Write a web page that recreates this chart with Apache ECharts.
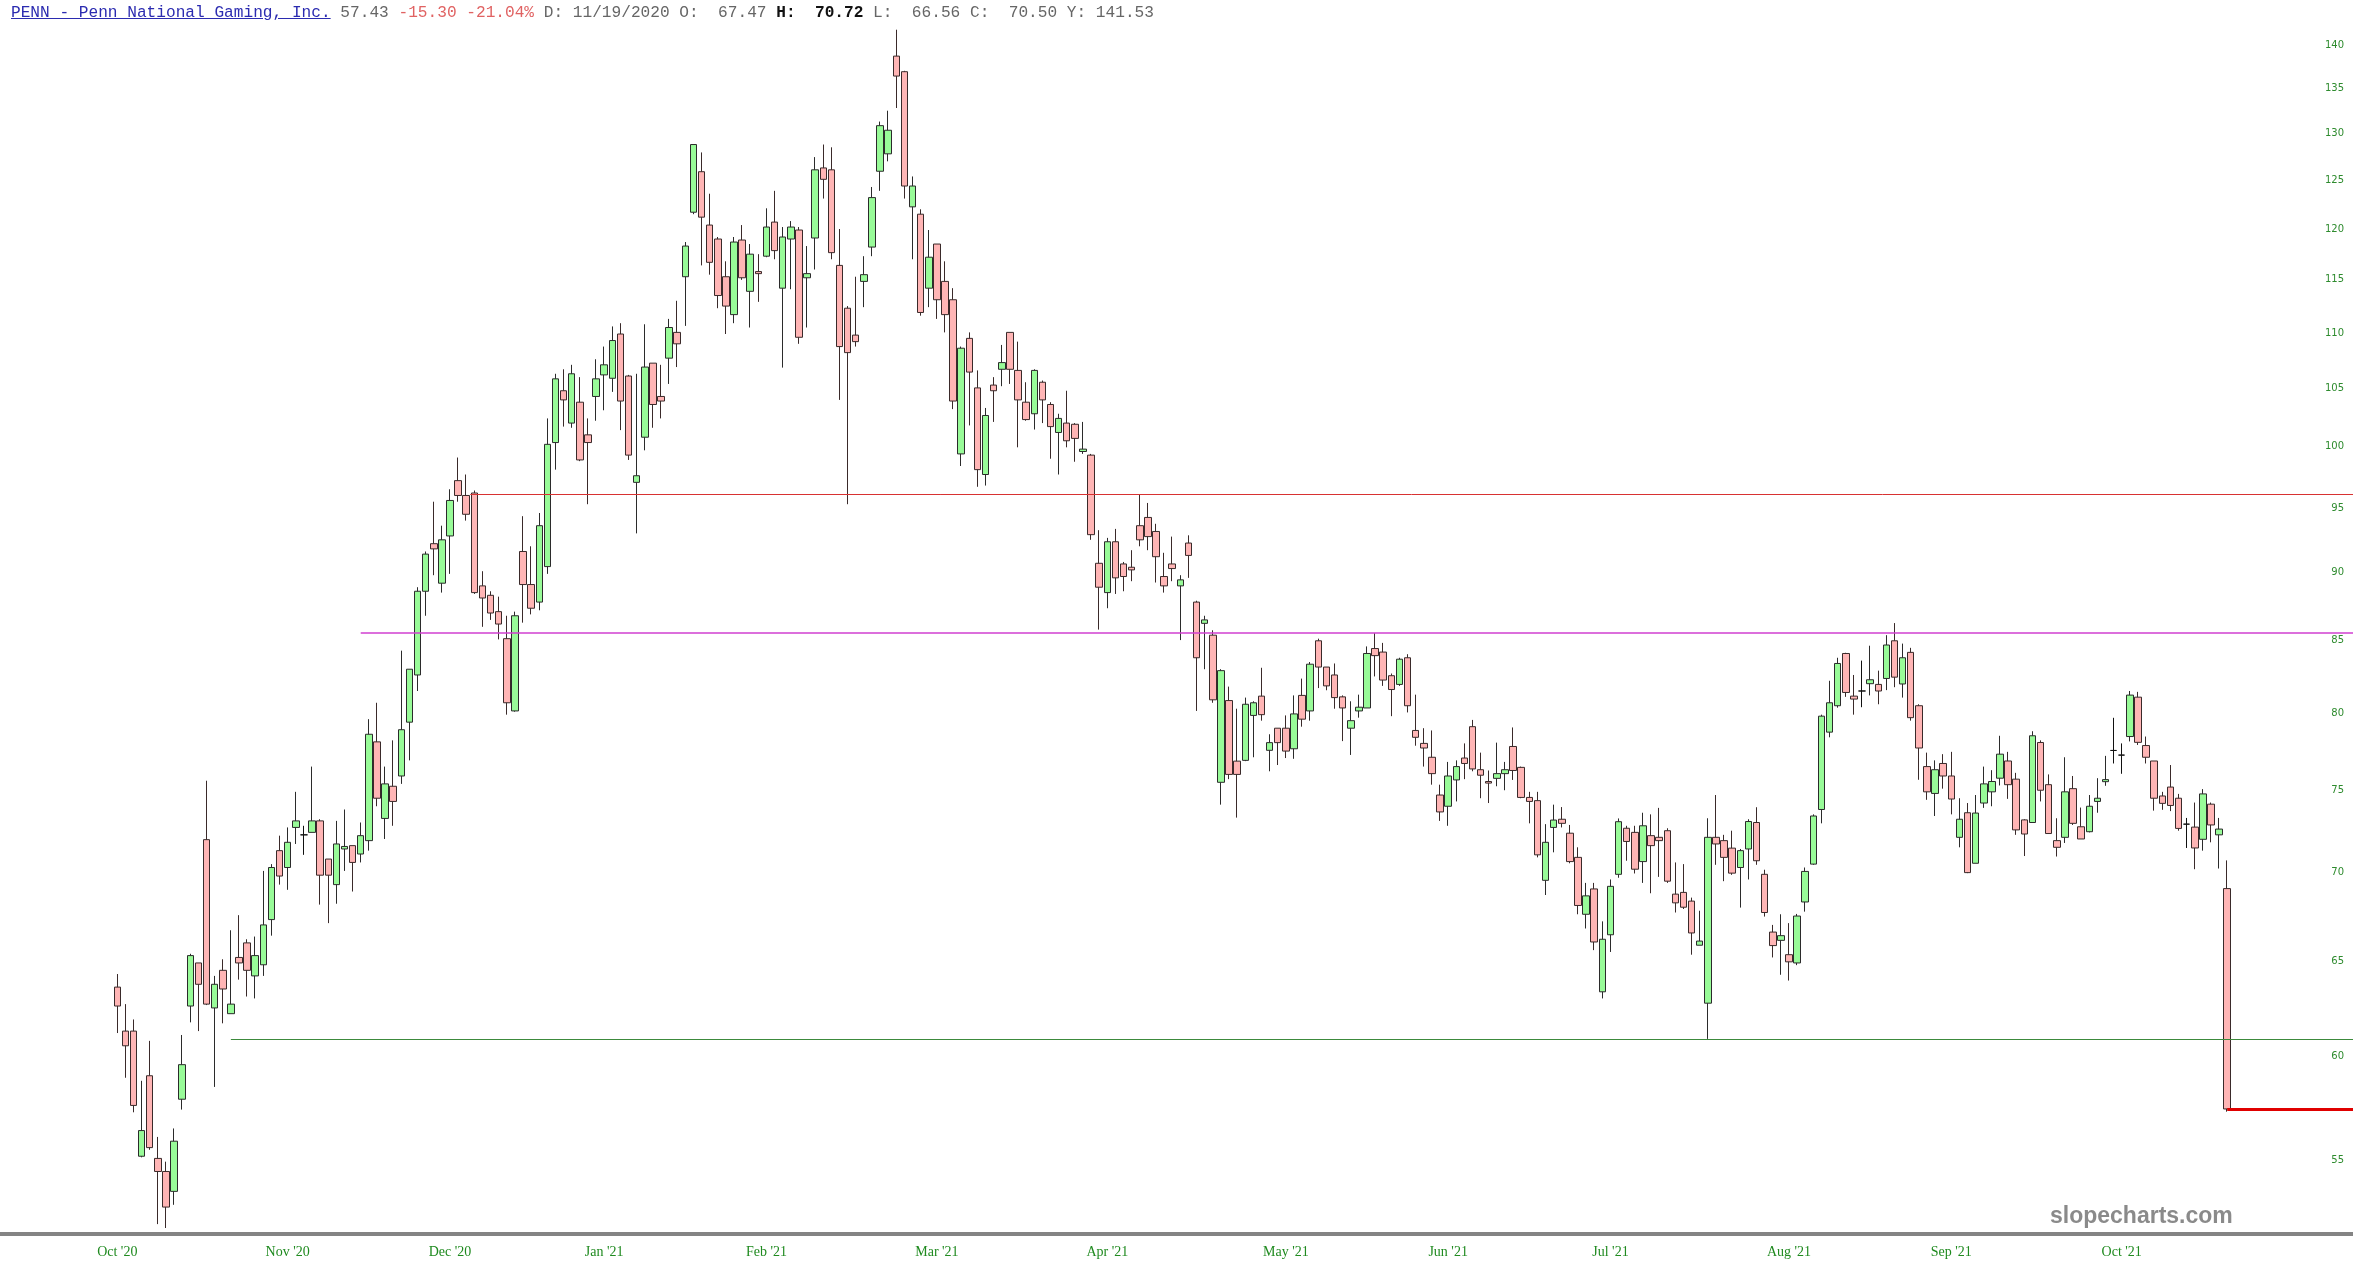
<!DOCTYPE html>
<html>
<head>
<meta charset="utf-8">
<script src="https://cdn.jsdelivr.net/npm/echarts@6/dist/echarts.min.js"></script>
<style>
html,body{margin:0;padding:0;background:#fff;width:2353px;height:1275px;overflow:hidden;}
#chart{position:absolute;left:0;top:0;width:2353px;height:1275px;}
#hdr{position:absolute;left:11px;top:4px;font-family:'Liberation Mono',monospace;font-size:16.15px;line-height:18px;white-space:pre;color:#666;z-index:5;}
#hdr .t{color:#2b2bb0;text-decoration:underline;}
#hdr .r{color:#e06262;}
#hdr b{color:#111;}
</style>
</head>
<body>
<div id="chart"></div>
<div id="hdr"><span class="t">PENN - Penn National Gaming, Inc.</span> 57.43 <span class="r">-15.30 -21.04%</span> D: 11/19/2020 O:  67.47 <b>H:  70.72</b> L:  66.56 C:  70.50 Y: 141.53</div>
<script>
const opens = [
63.6,61.3,61.3,55.2,59.05,55.1,54.5,53.6,57.9,62.6,
64.9,71.96,62.5,64.5,62.2,65.2,66.0,64.2,64.8,67.3,
71.3,70.3,72.7,72.25,72.4,73.1,70.8,69.3,71.4,71.6,
71.1,71.9,78.1,73.25,75.25,75.9,79.4,82.6,88.6,92.2,
89.2,92.8,97.2,96.0,96.2,89.0,88.3,87.1,85.15,80.15,
91.6,89.1,87.8,90.45,100.35,104.8,102.0,103.8,101.0,104.3,
106.2,105.9,109.9,106.1,97.06,100.8,107.25,104.3,107.7,110.05,
115.3,121.7,125.9,120.4,119.0,115.3,111.7,118.9,113.9,115.8,
117.3,120.7,114.2,119.0,119.9,115.2,119.1,126.3,126.1,116.4,
112.3,109.8,114.85,118.2,125.95,127.8,138.7,136.9,122.25,121.5,
114.2,118.5,114.85,113.1,99.4,109.5,105.05,97.7,105.3,106.7,
110.05,106.6,103.8,102.8,105.55,103.6,101.2,102.0,101.9,99.6,
99.3,90.7,88.5,92.35,90.65,90.4,93.6,94.25,93.15,89.7,
90.65,89.0,92.25,87.8,86.25,85.4,75.5,80.85,76.85,76.9,
79.85,81.15,77.55,79.0,79.0,77.65,81.2,80.15,85.0,83.15,
82.6,81.1,79.0,80.15,80.35,84.45,84.2,82.55,81.95,83.8,
78.85,78.0,77.1,74.7,74.0,75.65,77.05,79.1,76.3,75.55,
75.75,76.05,77.8,76.45,74.55,74.35,69.55,72.7,73.2,72.35,
70.9,67.6,69.05,63.35,66.45,69.9,72.65,72.4,70.65,72.2,
72.1,72.5,68.75,68.85,68.35,65.87,62.75,72.1,71.9,71.45,
70.3,71.4,73.0,69.9,66.6,66.14,65.35,64.9,68.3,70.5,
73.8,78.74,80.5,84.1,81.15,81.5,82.0,81.95,82.36,85.0,
81.98,84.18,80.5,76.5,74.8,76.7,75.9,72.1,73.6,70.55,
74.2,74.9,75.76,76.86,75.7,73.16,73.0,78.06,75.35,71.9,
72.1,75.1,72.74,72.44,74.3,75.54,77.54,77.24,78.45,81.08,
77.86,76.86,74.64,75.2,74.5,72.9,72.72,71.98,74.13,72.25,
69.07
];
const closes = [
62.6,60.55,57.6,56.4,55.6,54.5,52.9,55.9,59.6,65.3,
63.75,62.7,63.75,63.5,62.7,64.9,64.5,65.3,67.0,70.3,
69.8,71.8,73.1,72.25,73.1,69.85,69.85,71.7,71.55,70.6,
72.2,78.6,74.5,75.4,74.3,78.9,83.0,88.6,91.4,91.8,
92.5,95.6,96.0,94.5,88.5,88.1,87.0,86.2,80.7,86.8,
89.1,87.35,93.6,100.2,105.85,104.0,106.3,98.9,100.35,105.85,
107.1,109.3,103.9,99.3,97.6,106.9,103.6,103.9,110.5,109.0,
118.3,128.8,121.2,116.7,113.5,112.5,118.7,115.2,117.5,115.6,
120.2,117.85,119.2,120.2,109.6,115.6,126.1,125.1,117.65,108.75,
108.2,109.2,115.5,123.2,130.85,130.35,136.4,124.4,124.4,111.9,
117.2,113.1,111.7,103.9,108.6,106.45,98.1,102.65,104.8,107.3,
106.7,104.0,102.3,106.6,104.0,101.7,102.4,100.5,100.7,99.8,
92.9,88.9,92.35,89.6,89.7,90.2,92.5,92.75,91.2,89.0,
90.3,89.45,91.3,83.8,86.5,80.9,82.9,76.0,76.0,80.6,
80.7,79.9,78.05,78.05,77.5,79.95,79.6,83.35,83.15,81.85,
81.05,80.35,79.5,80.4,84.1,83.95,82.25,81.6,83.7,80.5,
78.4,77.7,76.05,73.65,75.9,76.5,76.7,76.35,75.95,75.45,
76.05,76.3,76.25,74.55,74.3,71.05,71.8,73.15,72.95,70.65,
68.1,68.65,66.05,66.2,69.2,73.05,71.85,70.2,72.8,71.6,
71.9,69.5,68.25,68.0,66.55,66.1,72.1,71.7,70.9,69.97,
71.3,73.06,70.7,67.7,65.85,66.4,64.96,67.5,70.07,73.4,
79.8,80.7,83.4,81.4,80.95,81.5,82.27,81.5,84.7,82.45,
83.8,79.7,77.7,74.9,76.3,75.9,74.45,73.2,70.0,73.58,
75.4,75.55,77.3,75.35,72.55,72.3,78.5,75.0,72.33,71.5,
74.9,72.95,72.0,74.0,74.5,75.67,77.54,77.24,81.22,78.07,
77.1,74.5,74.18,74.05,72.64,72.9,71.46,74.77,72.85,72.6,
57.43
];
const highs = [
64.3,62.7,61.9,58.8,60.8,56.1,54.95,56.5,61.1,65.4,
64.9,75.6,64.2,65.1,66.7,67.55,66.2,66.35,70.1,70.5,
72.2,72.7,74.9,72.8,76.5,73.2,70.8,73.1,73.8,71.6,
73.0,79.6,80.7,76.5,78.2,84.3,83.0,88.9,91.6,95.5,
93.6,96.5,99.1,97.7,96.4,90.1,88.6,88.2,86.8,87.1,
94.35,92.0,94.6,102.4,106.3,106.7,107.1,106.0,102.4,107.6,
108.75,110.6,110.9,106.2,106.3,110.8,107.25,107.1,111.3,113.0,
118.7,128.8,127.95,123.6,119.2,116.8,119.2,120.4,118.5,117.5,
122.1,123.9,120.2,120.8,120.2,118.3,127.45,128.8,128.5,120.0,
112.5,115.3,117.3,124.3,131.3,132.5,141.8,137.0,125.4,122.0,
119.9,118.5,116.8,114.2,108.75,110.05,106.6,103.3,106.0,108.9,
110.05,109.2,105.55,106.7,105.7,103.8,102.8,104.8,102.0,102.1,
99.4,93.25,92.65,93.35,90.8,91.7,96.1,95.4,93.75,91.5,
92.75,89.8,92.85,87.9,86.8,85.75,83.0,81.8,80.3,81.05,
80.8,83.1,78.6,79.0,79.85,81.2,82.35,83.5,85.15,83.15,
83.4,81.2,80.8,81.25,84.6,85.55,84.85,82.7,83.8,84.05,
81.25,79.0,78.85,75.35,76.8,76.9,78.0,79.55,77.4,76.25,
78.05,76.8,79.05,76.5,74.9,74.9,72.9,74.1,73.95,72.85,
71.5,69.4,69.4,67.2,69.6,73.25,72.8,72.8,73.6,73.5,
73.9,72.65,70.6,70.5,68.55,67.8,73.26,74.7,72.25,72.5,
71.4,73.2,73.94,70.17,67.0,67.6,67.1,67.62,70.3,73.5,
79.9,82.2,83.8,84.15,82.6,83.6,84.65,82.9,85.4,86.27,
84.8,84.5,80.6,77.4,76.9,77.3,77.45,74.5,74.2,74.7,
76.5,76.27,78.5,77.45,76.1,73.2,78.8,78.2,76.0,73.26,
77.1,75.9,73.92,74.7,75.76,77.19,79.69,78.0,81.5,81.44,
78.45,76.86,74.9,76.6,74.77,73.28,74.23,75.07,74.23,73.28,
70.72
];
const lows = [
61.2,58.95,57.27,55.15,55.5,52.15,51.98,53.0,57.4,61.75,
61.3,62.65,58.5,61.7,62.2,64.0,63.1,63.0,64.2,66.4,
69.3,69.0,71.7,71.05,72.4,68.15,67.1,68.2,70.1,68.9,
70.6,71.3,74.0,72.0,72.8,75.4,76.9,81.5,86.8,89.8,
88.5,89.9,95.5,94.0,88.4,86.0,86.5,85.1,79.9,80.1,
86.3,86.9,87.2,89.9,98.1,101.7,101.6,98.8,95.3,102.2,
103.1,104.7,101.4,98.9,93.0,99.7,101.6,102.4,105.4,106.9,
110.65,121.5,116.4,115.5,112.3,109.9,110.9,115.0,110.5,112.9,
117.2,117.0,106.85,114.1,109.0,110.5,116.0,123.1,117.0,104.0,
95.3,108.75,112.4,117.3,123.9,127.0,132.8,123.1,117.0,111.6,
112.4,111.3,110.05,103.2,98.4,101.8,96.7,96.8,102.1,105.2,
105.4,99.95,102.2,101.45,102.0,99.0,97.7,99.95,98.75,99.4,
92.5,85.8,87.35,88.4,88.6,89.35,92.0,91.7,89.25,88.5,
89.35,85.05,89.6,80.15,83.0,80.7,74.1,75.7,73.3,76.85,
77.1,79.5,76.2,76.6,77.05,77.0,79.1,79.5,81.7,81.55,
80.3,78.15,77.25,79.7,80.35,82.5,81.85,79.8,81.85,80.05,
77.85,76.5,75.35,73.1,72.8,74.3,75.7,76.2,74.5,74.2,
75.25,75.0,75.65,74.5,72.95,70.9,68.7,71.2,72.7,70.55,
67.6,66.8,65.6,63.0,65.5,69.7,70.7,69.95,69.4,68.8,
69.75,69.4,67.7,67.9,65.35,65.87,60.9,70.46,69.5,69.87,
67.98,69.6,70.46,67.47,65.2,64.26,63.95,64.78,67.75,70.46,
72.95,78.4,80.37,81.1,79.9,80.4,81.2,80.6,81.56,81.76,
81.05,79.5,75.66,74.4,73.4,75.1,73.5,71.5,69.97,70.55,
73.9,74.0,75.3,74.46,72.25,70.98,73.0,74.3,72.3,70.95,
71.76,72.85,72.0,72.4,73.6,75.28,76.7,76.04,78.13,77.9,
76.7,73.73,73.78,73.7,72.5,71.46,70.2,71.3,71.8,70.24,
57.3
];
const monthLabels = ["Oct '20","Nov '20","Dec '20","Jan '21","Feb '21","Mar '21","Apr '21","May '21","Jun '21","Jul '21","Aug '21","Sep '21","Oct '21"];
const monthIndex = [0,21,41,60,80,101,122,144,164,184,206,226,247];
const priceTicks = [55,60,65,70,75,80,85,90,95,100,105,110,115,120,125,130,135,140];
const levelValues = [96.1, 85.57, 60.9, 57.43];
const levelStartIndex = [43.5, 30, 14, 260];
const levelColors = ['#d83232', '#d03fd0', '#3c8a3c', '#e00000'];
const levelWidths = [1, 1.5, 1.2, 3];

const X_MIN = -14.45, X_MAX = 275.5;

const candles = opens.map((o, i) => [i, o, closes[i], lows[i], highs[i]]);

const markData = levelValues.map((v, k) => [
  {coord: [levelStartIndex[k], v], lineStyle: {color: levelColors[k], width: levelWidths[k], type: 'solid'}},
  {coord: [X_MAX, v]}
]);

const chart = echarts.init(document.getElementById('chart'), null, {renderer: 'canvas'});
chart.setOption({
  animation: false,
  backgroundColor: '#ffffff',
  grid: {left: 0, right: 0, top: 25, bottom: 41, containLabel: false, outerBoundsMode: 'none'},
  xAxis: {
    type: 'value',
    min: X_MIN,
    max: X_MAX,
    splitLine: {show: false},
    axisTick: {show: false},
    axisLine: {show: true, onZero: false, lineStyle: {color: '#848484', width: 4}},
    axisLabel: {
      customValues: monthIndex,
      formatter: function (v) { const k = monthIndex.indexOf(v); return k >= 0 ? monthLabels[k] : ''; },
      color: '#1f8a1f',
      fontFamily: 'Liberation Serif',
      fontSize: 14,
      margin: 11
    }
  },
  yAxis: {
    type: 'log',
    logBase: 10,
    min: 51.72,
    max: 142.36,
    position: 'right',
    splitLine: {show: false},
    axisTick: {show: false},
    axisLine: {show: false},
    axisLabel: {
      inside: true,
      customValues: priceTicks,
      formatter: function (v) { return String(Math.round(v)); },
      color: '#2e8b2e',
      fontFamily: 'DejaVu Sans',
      fontSize: 10,
      margin: 9
    }
  },
  graphic: [{
    type: 'text',
    left: 2050,
    top: 1205,
    silent: true,
    style: {text: 'slopecharts.com', font: 'bold 23px "Liberation Sans"', fill: '#8a8a8a'}
  }],
  series: [{
    type: 'candlestick',
    data: candles,
    barWidth: 7,
    itemStyle: {
      color: '#98fb98',
      color0: '#ffb5b5',
      borderColor: '#2b2b2b',
      borderColor0: '#3a2a2a',
      borderColorDoji: '#111111',
      borderWidth: 1
    },
    markLine: {
      silent: true,
      symbol: ['none', 'none'],
      label: {show: false},
      animation: false,
      data: markData
    }
  }]
});
</script>
</body>
</html>
